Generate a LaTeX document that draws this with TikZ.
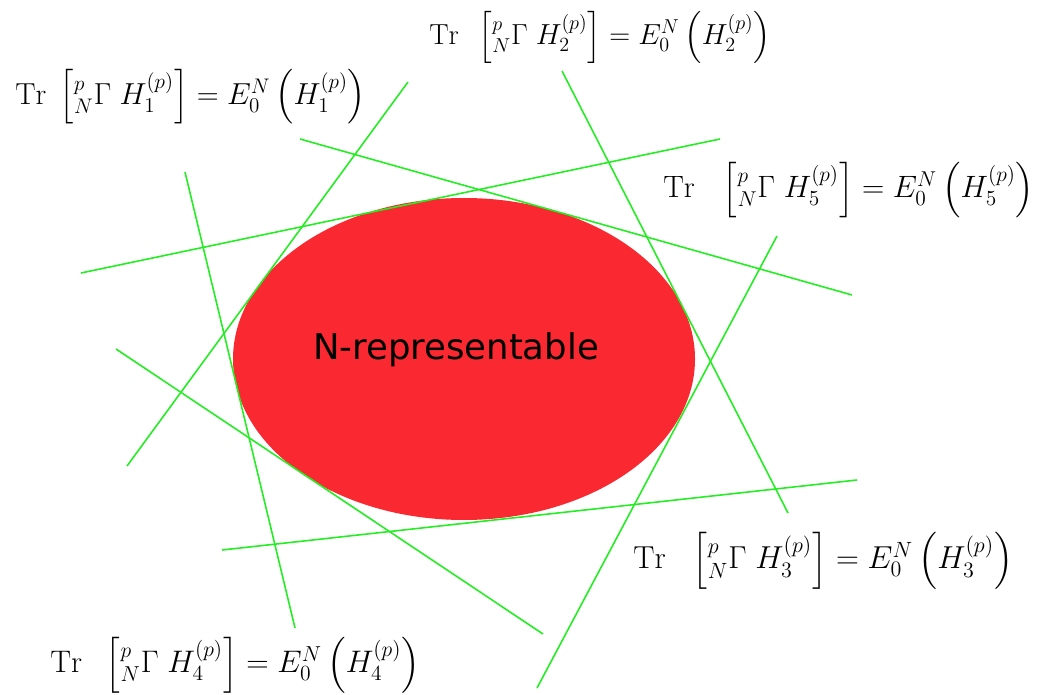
\documentclass[tikz,border=0pt]{standalone}
\usepackage{amsmath}
\usepackage{graphicx}
\usepackage{fontspec}
\newfontfamily\dejavu{DejaVu Sans}
\usepackage{xcolor}
\usetikzlibrary{positioning}

\definecolor{nrepred}{RGB}{250,40,48}
\definecolor{planegreen}{RGB}{34,238,34}

% #1 = scale, #2 = index of H, #3 = extra space after Tr
\newcommand{\trcond}[3]{\scalebox{#1}{$\mathrm{Tr}\;\hspace{#3}\left[{}^{p}_{N}\Gamma\;H_{#2}^{(p)}\right]=E_0^N\left(H_{#2}^{(p)}\right)$}}

\begin{document}
\begin{tikzpicture}[
      x=0.02cm, y=-0.02cm,
      hyperplane/.style={draw=planegreen, line width=0.9pt},
      condlabel/.style={inner sep=0pt, anchor=west, font=\fontsize{17.28}{20}\selectfont}
    ]
      \useasboundingbox (0,0) rectangle (1043,695);

      % the N-representable set
      \fill[nrepred] (464,359) ellipse [x radius=231, y radius=161];
      \node[font=\dejavu\fontsize{20.2}{24}\selectfont] (nrep) at (456,350) {N-representable};

      % supporting hyperplanes
      \draw[hyperplane] (408,82) -- (127,466);
      \draw[hyperplane] (562,71) -- (788,513);
      \draw[hyperplane] (720,139) -- (81,273);
      \draw[hyperplane] (300,139) -- (852,295);
      \draw[hyperplane] (185,172) -- (295,628);
      \draw[hyperplane] (116,349) -- (543,634);
      \draw[hyperplane] (777,236) -- (537,688);
      \draw[hyperplane] (857,480) -- (222,550);

      % labels
      \node[condlabel] (h1) at (15,97) {\trcond{1}{1}{0pt}};
      \node[condlabel] (h2) at (429,37) {\trcond{0.955}{2}{4pt}};
      \node[condlabel] (h5) at (663,190) {\trcond{1.017}{5}{8pt}};
      \node[condlabel] (h3) at (633,561) {\trcond{1.046}{3}{7pt}};
      \node[condlabel] (h4) at (50,665) {\trcond{1.026}{4}{5.5pt}};
    \end{tikzpicture}
\end{document}
